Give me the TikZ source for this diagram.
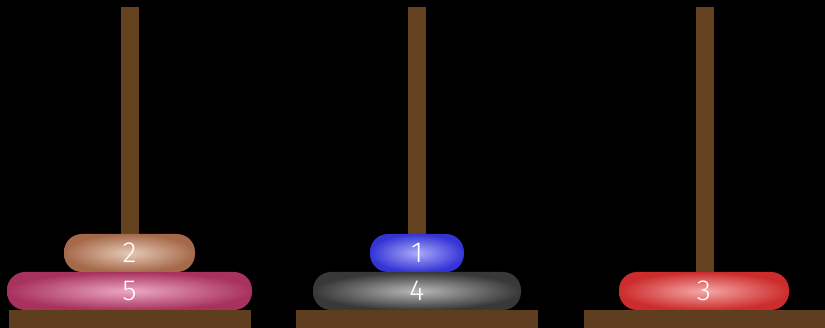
\documentclass[tikz,border=0pt]{standalone}
\usepackage{fontspec}
\setsansfont{Fira Sans Light}
\usepackage{tikz}

\definecolor{pegbrown}{HTML}{65421F}
\definecolor{basebrown}{HTML}{5E3E1F}
\definecolor{pinkin}{HTML}{EBA8C4}
\definecolor{pinkout}{HTML}{A8325E}
\definecolor{tanin}{HTML}{E6CAB6}
\definecolor{tanout}{HTML}{A5694A}
\definecolor{grayin}{HTML}{B8B8B8}
\definecolor{grayout}{HTML}{383838}
\definecolor{bluein}{HTML}{ABABFA}
\definecolor{blueout}{HTML}{3434D6}
\definecolor{redin}{HTML}{F6A8A8}
\definecolor{redout}{HTML}{CC2C2C}

\begin{document}
\begin{tikzpicture}[x=1pt, y=-1pt,
    disk/.style n args={3}{rectangle, rounded corners=18pt, minimum width=#1pt,
        minimum height=38pt, inner sep=0pt, inner color=#2, outer color=#3,
        text=white, font=\sffamily\fontsize{29}{31}\selectfont},
    peg/.style={fill=pegbrown},
    plate/.style={fill=basebrown}]
    % Background and frame
    \fill[black] (0,0) rectangle (825,328);
    \useasboundingbox (0,0) rectangle (825,328);

    % Pegs and bases
    \foreach \cx [count=\i] in {129.5,417,704.5} {
        \fill[peg] (\cx-9,7) rectangle (\cx+9,310);
        \fill[plate] (\cx-121,310) rectangle (\cx+121,328);
    }

    % Disks on peg 1
    \node[disk={245}{pinkin}{pinkout}] (d5) at (129.5,291) {5};
    \node[disk={131}{tanin}{tanout}] (d2) at (129.5,253) {2};

    % Disks on peg 2
    \node[disk={208}{grayin}{grayout}] (d4) at (417,291) {4};
    \node[disk={94}{bluein}{blueout}] (d1) at (417,253) {1};

    % Disk on peg 3
    \node[disk={170}{redin}{redout}] (d3) at (704,291) {3};
\end{tikzpicture}
\end{document}
